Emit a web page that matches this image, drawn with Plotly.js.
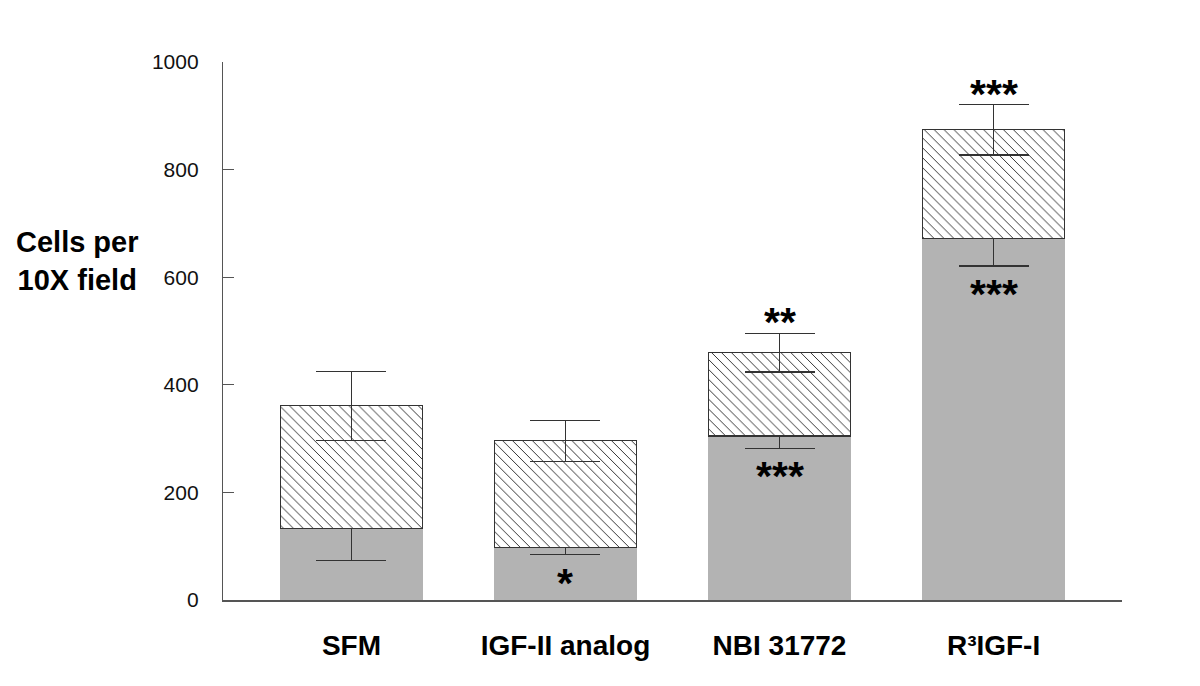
<!DOCTYPE html>
<html>
<head>
<meta charset="utf-8">
<script src="https://cdn.plot.ly/plotly-3.0.1.min.js"></script>
<style>html,body{margin:0;padding:0;background:#fff;}#chart{width:1200px;height:686px;}</style>
</head>
<body>
<div id="chart"></div>
<script>
// ---- data ----
const categories = ["SFM", "IGF-II analog", "NBI 31772", "R³IGF-I"];
const baseValues = [133, 98, 305, 672];          // grey (lower) bars
const baseErrors = [59, 14, 23, 51];
const totalValues = [361, 296, 460, 874];        // top of hatched bars
const totalErrors = [64, 38, 36, 47];
const sigAbove = ["", "", "**", "***"];
const sigBelow = ["", "*", "***", "***"];
const yTicks = [0, 200, 400, 600, 800, 1000];

const hatchValues = totalValues.map((t, i) => t - baseValues[i]);
const xIdx = categories.map((_, i) => i);
const zeros = categories.map(() => 0);

const traces = [
  {
    type: "bar", x: xIdx, y: baseValues, width: 0.665,
    marker: {color: "#b3b3b3", line: {width: 0}},
    error_y: {type: "data", symmetric: false, array: zeros, arrayminus: baseErrors,
              color: "#333", thickness: 1.3, width: 35},
    hoverinfo: "y"
  },
  {
    type: "bar", x: xIdx, y: hatchValues, width: 0.665,
    marker: {color: "#ffffff", line: {color: "#333", width: 1.2},
             pattern: {shape: "\\", size: 7, solidity: 0.14, fgcolor: "#333", bgcolor: "#ffffff"}},
    error_y: {type: "data", array: totalErrors, color: "#333", thickness: 1.3, width: 35},
    hoverinfo: "y"
  }
];

const starFont = {family: "Liberation Sans, Arial, sans-serif", size: 41, color: "#000", weight: "bold"};
const annotations = [];
categories.forEach((c, i) => {
  if (sigAbove[i]) annotations.push({x: i, y: totalValues[i] + totalErrors[i], xref: "x", yref: "y",
    text: sigAbove[i], showarrow: false, yanchor: "middle", yshift: 11, font: starFont});
  if (sigBelow[i]) annotations.push({x: i, y: baseValues[i] - baseErrors[i], xref: "x", yref: "y",
    text: sigBelow[i], showarrow: false, yanchor: "middle", yshift: -28, font: starFont});
});

const L = 223, R = 78, T = 62, B = 86, W = 1200, H = 686;
annotations.push({
  x: (77 - L) / (W - L - R), y: (H - B - 261) / (H - T - B),
  xref: "paper", yref: "paper", xanchor: "center", yanchor: "middle",
  text: "<b>Cells per<br>10X field</b>", showarrow: false, align: "center",
  font: {family: "Liberation Sans, Arial, sans-serif", size: 29, color: "#000"}
});

const layout = {
  width: W, height: H,
  margin: {l: L, r: R, t: T, b: B},
  barmode: "stack",
  showlegend: false,
  paper_bgcolor: "#fff", plot_bgcolor: "#fff",
  font: {family: "Liberation Sans, Arial, sans-serif", color: "#000"},
  xaxis: {
    range: [-0.6, 3.6], tickvals: xIdx, ticktext: categories.map(c => "<b>" + c + "</b>"),
    showline: true, linecolor: "#555", linewidth: 1.5, ticks: "", showgrid: false, zeroline: false,
    tickfont: {size: 28, color: "#000"}, ticklabelstandoff: 20
  },
  yaxis: {
    range: [0, 1000], tickvals: yTicks,
    showline: true, linecolor: "#555", linewidth: 1.2, ticks: "inside", ticklen: 11, tickcolor: "#555",
    showgrid: false, zeroline: false, tickfont: {size: 21, color: "#111"}, ticklabelstandoff: 19
  },
  annotations: annotations
};

Plotly.newPlot("chart", traces, layout, {displayModeBar: false, staticPlot: true});
</script>
</body>
</html>
